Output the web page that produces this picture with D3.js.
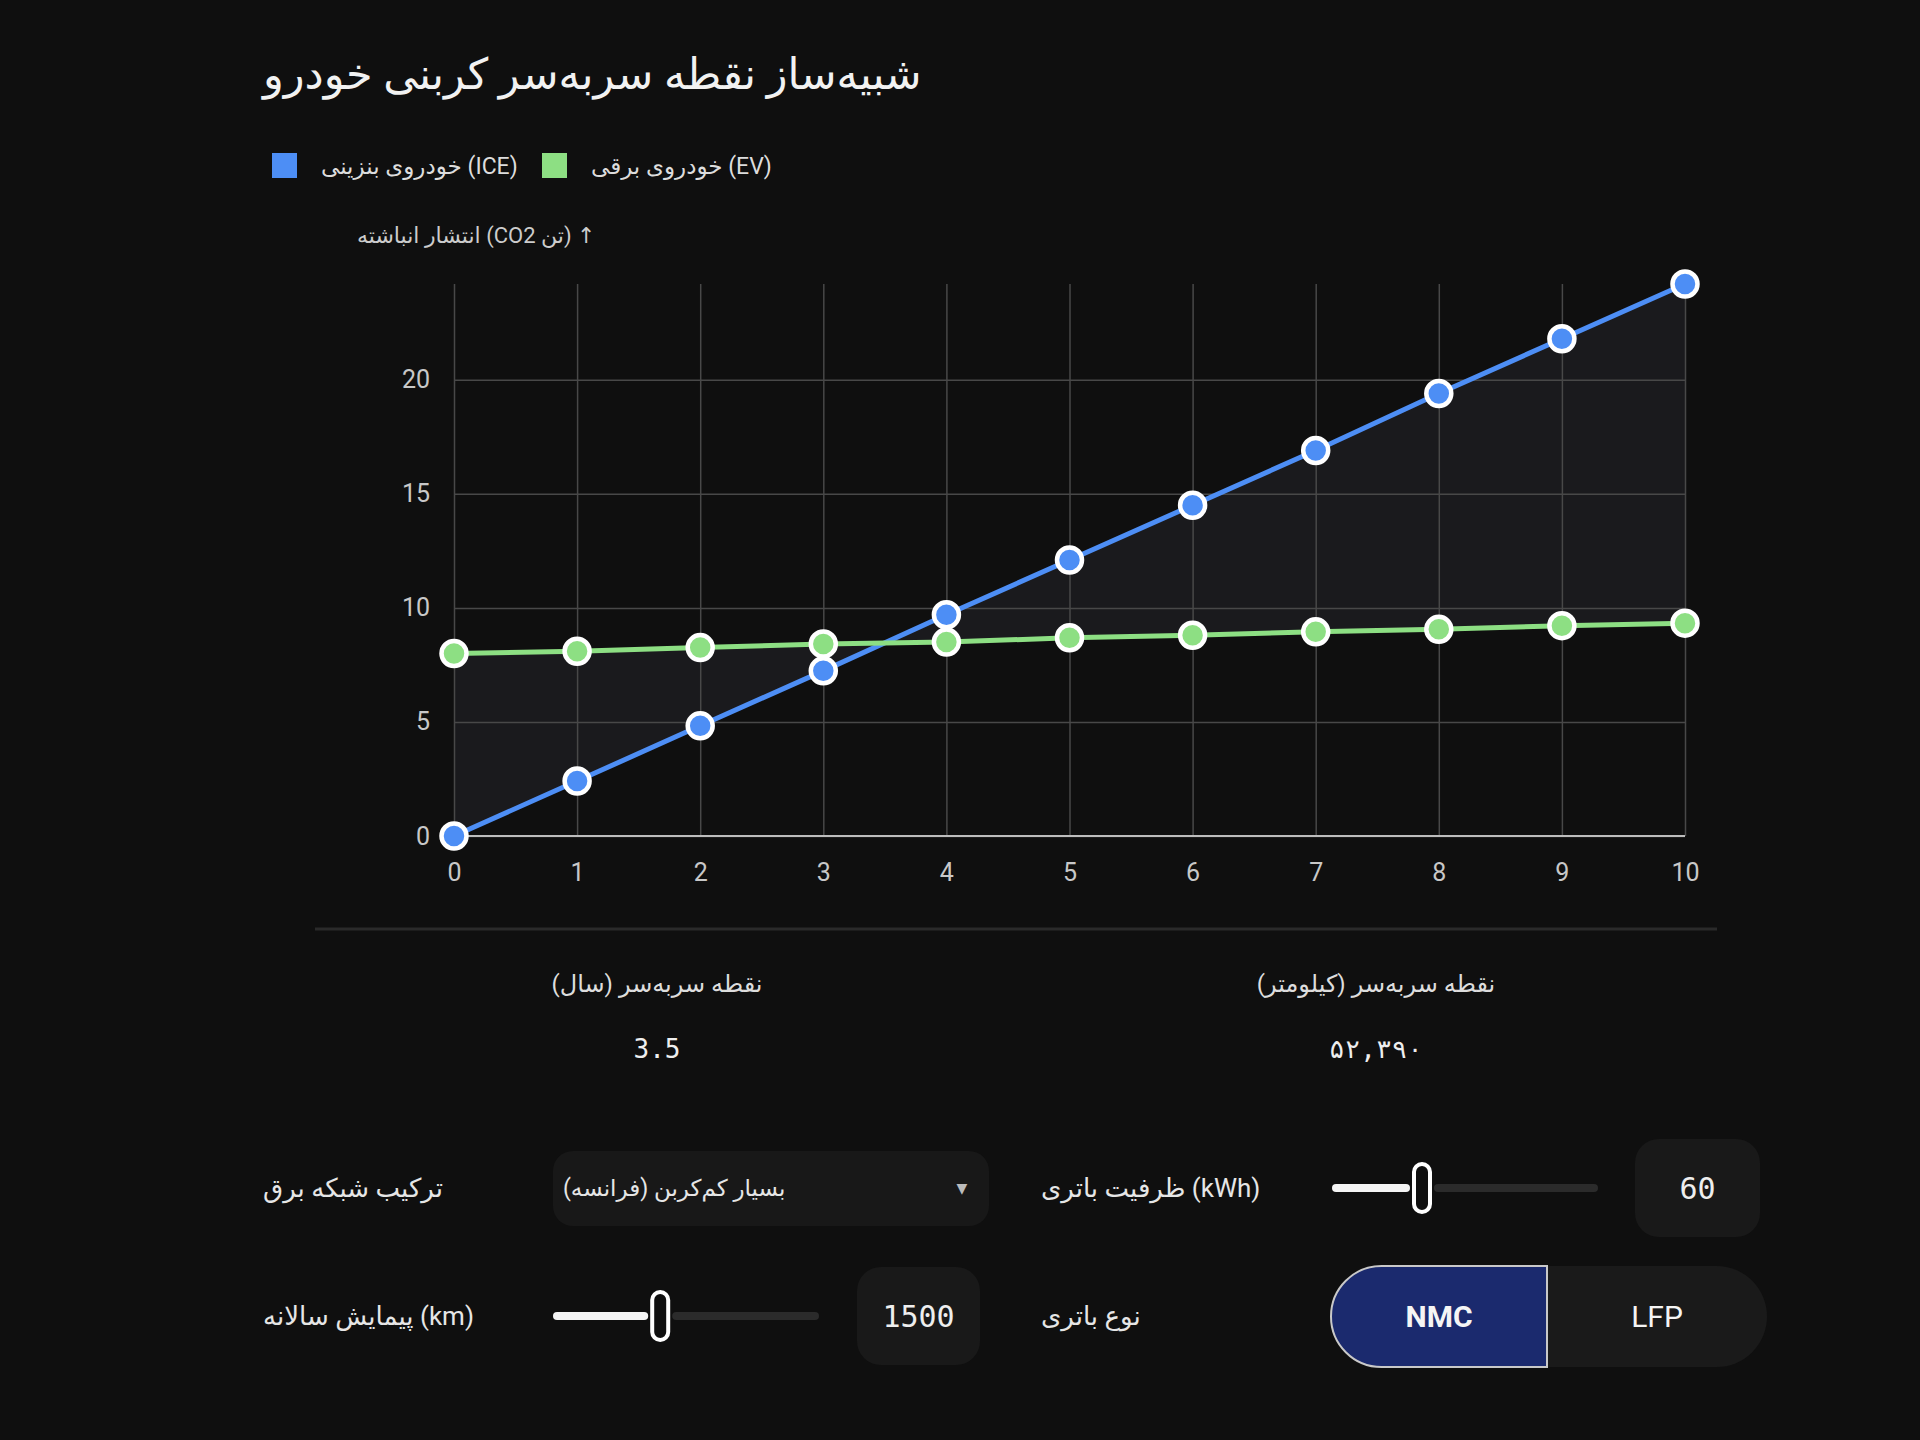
<!DOCTYPE html>
<html>
<head>
<meta charset="utf-8">
<script src="https://cdn.jsdelivr.net/npm/d3@7"></script>
<style>
  html, body { margin: 0; padding: 0; background: #0f0f0f; }
  svg { display: block; }
  text { font-family: Roboto, "DejaVu Sans", sans-serif; }
  .mono { font-family: "DejaVu Sans Mono", monospace; }
</style>
</head>
<body>
<div id="chart"></div>
<script>
var W = 1920, H = 1440;

// data
var years = [0, 1, 2, 3, 4, 5, 6, 7, 8, 9, 10];
var iceValues = [0, 2.41, 4.83, 7.24, 9.7, 12.1, 14.5, 16.9, 19.4, 21.8, 24.2];
var evValues = [8.0, 8.1, 8.26, 8.42, 8.5, 8.69, 8.8, 8.95, 9.06, 9.22, 9.33];
var yTicks = [0, 5, 10, 15, 20];
var seriesNames = ["خودروی بنزینی (ICE)", "خودروی برقی (EV)"];
var seriesColors = ["#4d8ef5", "#8ddf83"];

var titleText = "شبیه‌ساز نقطه سربه‌سر کربنی خودرو";
var yLabelText = "انتشار انباشته (CO2 تن) ↑";
var statLabels = ["نقطه سربه‌سر (سال)", "نقطه سربه‌سر (کیلومتر)"];
var statValues = ["3.5", "۵۲,۳۹۰"];

var gridLabel = "ترکیب شبکه برق";
var gridChoice = "بسیار کم‌کربن (فرانسه)";
var batteryLabel = "ظرفیت باتری (kWh)";
var batteryValue = 60, batteryRange = [30, 120];
var mileageLabel = "پیمایش سالانه (km)";
var mileageValue = 1500, mileageRange = [500, 3000];
var chemLabel = "نوع باتری";
var chemOptions = ["NMC", "LFP"];
var chemSelected = "NMC";

var margin = {left: 454, right: W - 1685, top: 284, bottom: H - 836};

var svg = d3.select("#chart")
    .append("svg")
    .attr("width", W)
    .attr("height", H);

svg.append("rect").attr("width", W).attr("height", H).attr("fill", "#0f0f0f");

// title
svg.append("text")
    .attr("x", 263).attr("y", 74)
    .attr("dominant-baseline", "central")
    .attr("font-size", "43px")
    .attr("fill", "#f2f2f2")
    .text(titleText);

// legend
var legendX = [272, 542];
seriesNames.forEach(function (name, i) {
    svg.append("rect")
        .attr("x", legendX[i]).attr("y", 153)
        .attr("width", 25).attr("height", 25)
        .attr("fill", seriesColors[i]);
    svg.append("text")
        .attr("x", legendX[i] + 49).attr("y", 166)
        .attr("dominant-baseline", "central")
        .attr("font-size", "23px")
        .attr("fill", "#dddddd")
        .text(name);
});

// y label
svg.append("text")
    .attr("x", 357).attr("y", 235)
    .attr("dominant-baseline", "central")
    .attr("font-size", "22px")
    .attr("fill", "#cccccc")
    .text(yLabelText);

var x = d3.scaleLinear()
    .domain([0, d3.max(years)])
    .range([margin.left, W - margin.right]);

var y = d3.scaleLinear()
    .domain([0, d3.max(iceValues)])
    .range([H - margin.bottom, margin.top]);

var rows = years.map(function (d, i) {
    return {year: d, ice: iceValues[i], ev: evValues[i]};
});

// gap between the two curves
var area = d3.area()
    .x(function (d) { return x(d.year); })
    .y0(function (d) { return y(d.ev); })
    .y1(function (d) { return y(d.ice); });

svg.append("path")
    .datum(rows)
    .attr("d", area)
    .attr("fill", "#1a1a1d");

// grid + tick labels
var xAxis = svg.append("g")
    .attr("transform", "translate(0," + y(0) + ")")
    .call(d3.axisBottom(x).tickValues(years).tickSize(-(y(0) - margin.top)).tickPadding(24).tickFormat(d3.format("d")));

var yAxis = svg.append("g")
    .attr("transform", "translate(" + margin.left + ",0)")
    .call(d3.axisLeft(y).tickValues(yTicks).tickSize(-(x(10) - x(0))).tickPadding(24).tickFormat(d3.format("d")));

[xAxis, yAxis].forEach(function (g) {
    g.select(".domain").remove();
    g.selectAll(".tick line").attr("stroke", "#484848").attr("stroke-width", 1.5);
    g.selectAll(".tick text")
        .attr("fill", "#c8c8c8")
        .attr("font-size", "25px")
        .attr("font-family", "Roboto, sans-serif");
});
xAxis.selectAll(".tick text").attr("dy", "0.35em").attr("y", 36);

// baseline
svg.append("line")
    .attr("x1", x(0)).attr("x2", x(10))
    .attr("y1", y(0)).attr("y2", y(0))
    .attr("stroke", "#bdbdbd").attr("stroke-width", 2);

// lines and points
var keys = ["ice", "ev"];
keys.forEach(function (k, i) {
    var line = d3.line()
        .x(function (d) { return x(d.year); })
        .y(function (d) { return y(d[k]); });
    svg.append("path")
        .datum(rows)
        .attr("d", line)
        .attr("fill", "none")
        .attr("stroke", seriesColors[i])
        .attr("stroke-width", 5);
});
keys.forEach(function (k, i) {
    svg.selectAll("circle." + k)
        .data(rows)
        .enter()
        .append("circle")
        .attr("class", k)
        .attr("cx", function (d) { return x(d.year); })
        .attr("cy", function (d) { return y(d[k]); })
        .attr("r", 12.5)
        .attr("fill", seriesColors[i])
        .attr("stroke", "#ffffff")
        .attr("stroke-width", 4.5);
});

// divider
svg.append("line")
    .attr("x1", 315).attr("x2", 1717)
    .attr("y1", 929).attr("y2", 929)
    .attr("stroke", "#2a2a2a").attr("stroke-width", 3);

// stats
var statX = [657, 1376];
statLabels.forEach(function (s, i) {
    svg.append("text")
        .attr("x", statX[i]).attr("y", 984)
        .attr("text-anchor", "middle")
        .attr("dominant-baseline", "central")
        .attr("font-size", "24px")
        .attr("fill", "#dddddd")
        .text(s);
    svg.append("text")
        .attr("class", "mono")
        .attr("x", statX[i]).attr("y", 1049)
        .attr("text-anchor", "middle")
        .attr("dominant-baseline", "central")
        .attr("font-size", "26px")
        .attr("fill", "#eeeeee")
        .text(statValues[i]);
});

// controls
function label(txt, lx, ly) {
    svg.append("text")
        .attr("x", lx).attr("y", ly)
        .attr("dominant-baseline", "central")
        .attr("font-size", "26px")
        .attr("fill", "#e6e6e6")
        .text(txt);
}

function slider(x0, x1, cy, value, range) {
    var s = d3.scaleLinear().domain(range).range([x0, x1]);
    var tx = s(value);
    svg.append("line")
        .attr("x1", tx + 16).attr("x2", x1)
        .attr("y1", cy).attr("y2", cy)
        .attr("stroke", "#2b2b2b").attr("stroke-width", 8).attr("stroke-linecap", "round");
    svg.append("line")
        .attr("x1", x0).attr("x2", tx - 16)
        .attr("y1", cy).attr("y2", cy)
        .attr("stroke", "#f5f5f5").attr("stroke-width", 8).attr("stroke-linecap", "round");
    svg.append("rect")
        .attr("x", tx - 8).attr("y", cy - 24)
        .attr("width", 16).attr("height", 48)
        .attr("rx", 8)
        .attr("fill", "#0f0f0f")
        .attr("stroke", "#ffffff").attr("stroke-width", 4);
}

function numberBox(bx, by, bw, bh, val) {
    svg.append("rect")
        .attr("x", bx).attr("y", by)
        .attr("width", bw).attr("height", bh)
        .attr("rx", 24)
        .attr("fill", "#191919");
    svg.append("text")
        .attr("class", "mono")
        .attr("x", bx + bw / 2).attr("y", by + bh / 2)
        .attr("text-anchor", "middle")
        .attr("dominant-baseline", "central")
        .attr("font-size", "30px")
        .attr("fill", "#eeeeee")
        .text(val);
}

// row 1
label(gridLabel, 263, 1188);
svg.append("rect")
    .attr("x", 553).attr("y", 1151)
    .attr("width", 436).attr("height", 75)
    .attr("rx", 20)
    .attr("fill", "#181818");
svg.append("text")
    .attr("x", 563).attr("y", 1188)
    .attr("dominant-baseline", "central")
    .attr("font-size", "23px")
    .attr("fill", "#e6e6e6")
    .text(gridChoice);
svg.append("text")
    .attr("x", 962).attr("y", 1188)
    .attr("text-anchor", "middle")
    .attr("dominant-baseline", "central")
    .attr("font-size", "14px")
    .attr("fill", "#bbbbbb")
    .text("▼");

label(batteryLabel, 1041, 1188);
slider(1336, 1594, 1188, batteryValue, batteryRange);
numberBox(1635, 1139, 125, 98, batteryValue);

// row 2
label(mileageLabel, 263, 1316);
slider(557, 815, 1316, mileageValue, mileageRange);
numberBox(857, 1267, 123, 98, mileageValue);

label(chemLabel, 1041, 1316);
var tg = {x: 1331, y: 1266, w: 436, h: 101, split: 1547};
svg.append("rect")
    .attr("x", tg.x).attr("y", tg.y)
    .attr("width", tg.w).attr("height", tg.h)
    .attr("rx", tg.h / 2)
    .attr("fill", "#1a1a1a");
var r = tg.h / 2;
svg.append("path")
    .attr("d", "M" + tg.split + "," + tg.y +
        " H" + (tg.x + r) +
        " A" + r + "," + r + " 0 0 0 " + (tg.x + r) + "," + (tg.y + tg.h) +
        " H" + tg.split + " Z")
    .attr("fill", "#1b2a6e")
    .attr("stroke", "#c9c9c9").attr("stroke-width", 2);
var chemX = [(tg.x + tg.split) / 2, (tg.split + tg.x + tg.w) / 2];
chemOptions.forEach(function (c, i) {
    svg.append("text")
        .attr("x", chemX[i]).attr("y", tg.y + tg.h / 2)
        .attr("text-anchor", "middle")
        .attr("dominant-baseline", "central")
        .attr("font-size", "30px")
        .attr("font-weight", c === chemSelected ? "bold" : "normal")
        .attr("fill", "#f5f5f5")
        .text(c);
});
</script>
</body>
</html>
